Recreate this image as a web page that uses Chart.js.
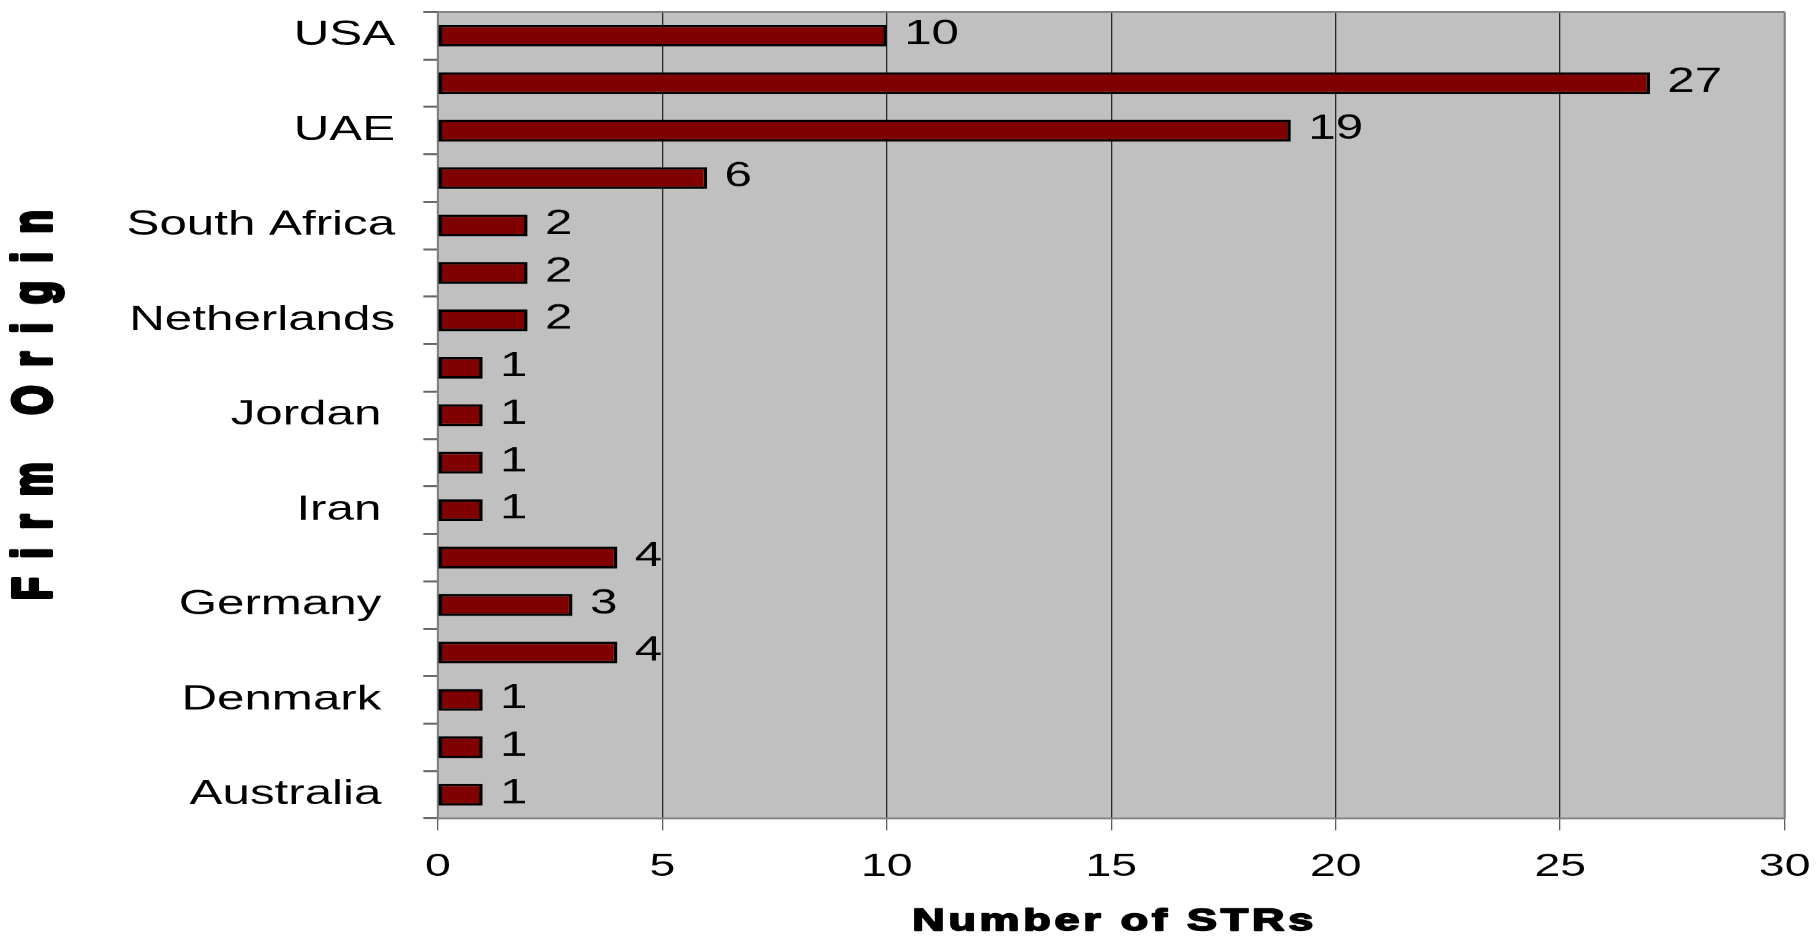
<!DOCTYPE html>
<html><head><meta charset="utf-8">
<script src="https://cdn.jsdelivr.net/npm/chart.js@4.4.0/dist/chart.umd.min.js"></script>
<style>
html,body{margin:0;padding:0;background:#fff;overflow:hidden;}
#wrap{position:absolute;left:0;top:0;width:1254px;height:940px;transform:scaleX(1.44976);transform-origin:0 0;}
</style></head><body>
<div id="wrap"><canvas id="c"></canvas></div>
<script>
// ---- data ----
const categories = ['USA','','UAE','','South Africa','','Netherlands','','Jordan ','','Iran ','','Germany ','','Denmark ','','Australia '];
const strCounts = [10,27,19,6,2,2,2,1,1,1,1,4,3,4,1,1,1];
const xTicks = [0,5,10,15,20,25,30];
const xTitle = 'Number of STRs';
const yTitle = 'Firm Origin';

const SX = 1818/1254;
const FONT = "'Liberation Sans', Arial, Helvetica, sans-serif";

const plotFrame = {
  id: 'plotFrame',
  beforeDraw(chart) {
    const {ctx, chartArea: a} = chart;
    ctx.save();
    ctx.fillStyle = '#c0c0c0';
    ctx.fillRect(a.left, a.top, a.right - a.left, a.bottom - a.top);
    ctx.restore();
  },
  beforeDatasetsDraw(chart) {
    const {ctx, chartArea: a} = chart;
    ctx.save();
    ctx.strokeStyle = '#808080';
    ctx.lineWidth = 2;
    ctx.beginPath();
    ctx.moveTo(a.left, a.top); ctx.lineTo(a.right, a.top);
    ctx.moveTo(a.left, a.bottom); ctx.lineTo(a.right, a.bottom);
    ctx.stroke();
    ctx.lineWidth = 1.4;
    ctx.beginPath();
    ctx.moveTo(a.left, a.top); ctx.lineTo(a.left, a.bottom);
    ctx.moveTo(a.right, a.top); ctx.lineTo(a.right, a.bottom);
    ctx.stroke();
    ctx.restore();
  }
};

const valueLabels = {
  id: 'valueLabels',
  afterDatasetsDraw(chart) {
    const {ctx} = chart;
    const meta = chart.getDatasetMeta(0);
    ctx.save();
    ctx.fillStyle = '#000';
    ctx.font = '34px ' + FONT;
    ctx.textAlign = 'left';
    ctx.textBaseline = 'middle';
    meta.data.forEach((bar, i) => {
      ctx.fillText(String(strCounts[i]), bar.x + 12, bar.y - 1);
    });
    ctx.restore();
  }
};

function heavyText(ctx, text, x, y, size, ls, stroke) {
  ctx.fillStyle = '#000';
  ctx.strokeStyle = '#000';
  ctx.lineJoin = 'round';
  ctx.lineWidth = stroke;
  ctx.font = 'bold ' + size + 'px ' + FONT;
  ctx.letterSpacing = ls + 'px';
  ctx.textAlign = 'center';
  ctx.textBaseline = 'middle';
  ctx.fillText(text, x + ls / 2, y);
  ctx.strokeText(text, x + ls / 2, y);
}

const axisTitles = {
  id: 'axisTitles',
  afterDraw(chart) {
    const {ctx, chartArea: a} = chart;
    ctx.save();
    ctx.translate(24.5, 405);
    ctx.rotate(-Math.PI / 2);
    heavyText(ctx, yTitle, 0, 0, 38, 18.5, 2.8);
    ctx.restore();
    ctx.save();
    heavyText(ctx, xTitle, (a.left + a.right) / 2 + 1, 921, 31, 2.6, 1.6);
    ctx.restore();
  }
};

new Chart(document.getElementById('c'), {
  type: 'bar',
  data: {
    labels: categories,
    datasets: [{
      data: strCounts,
      backgroundColor: '#800000',
      borderColor: '#000000',
      borderWidth: 2.5,
      borderSkipped: false,
      barPercentage: 0.46,
      categoryPercentage: 1.0
    }]
  },
  options: {
    indexAxis: 'y',
    responsive: true,
    maintainAspectRatio: false,
    devicePixelRatio: SX,
    animation: false,
    layout: { padding: { top: 12, right: 23, left: 0, bottom: 0 } },
    plugins: { legend: { display: false }, tooltip: { enabled: false } },
    scales: {
      x: {
        min: 0, max: 30,
        afterBuildTicks(s) { s.ticks = xTicks.map(v => ({ value: v })); },
        ticks: { color: '#000', font: { family: FONT, size: 32 }, padding: 17 },
        grid: { color: '#000', lineWidth: 0.7, tickLength: 12, tickColor: '#333' },
        border: { display: false },
        title: { display: false },
        afterFit(s) { s.height = 122; s.paddingLeft = 0; s.paddingRight = 0; }
      },
      y: {
        ticks: { color: '#000', font: { family: FONT, size: 34 }, padding: 19.5, autoSkip: false },
        grid: { drawOnChartArea: false, tickLength: 10, tickColor: '#666', lineWidth: 2, offset: true },
        border: { display: false },
        afterFit(s) { s.width = 302; s.paddingTop = 0; s.paddingBottom = 0; }
      }
    }
  },
  plugins: [plotFrame, valueLabels, axisTitles]
});
</script>
</body></html>
